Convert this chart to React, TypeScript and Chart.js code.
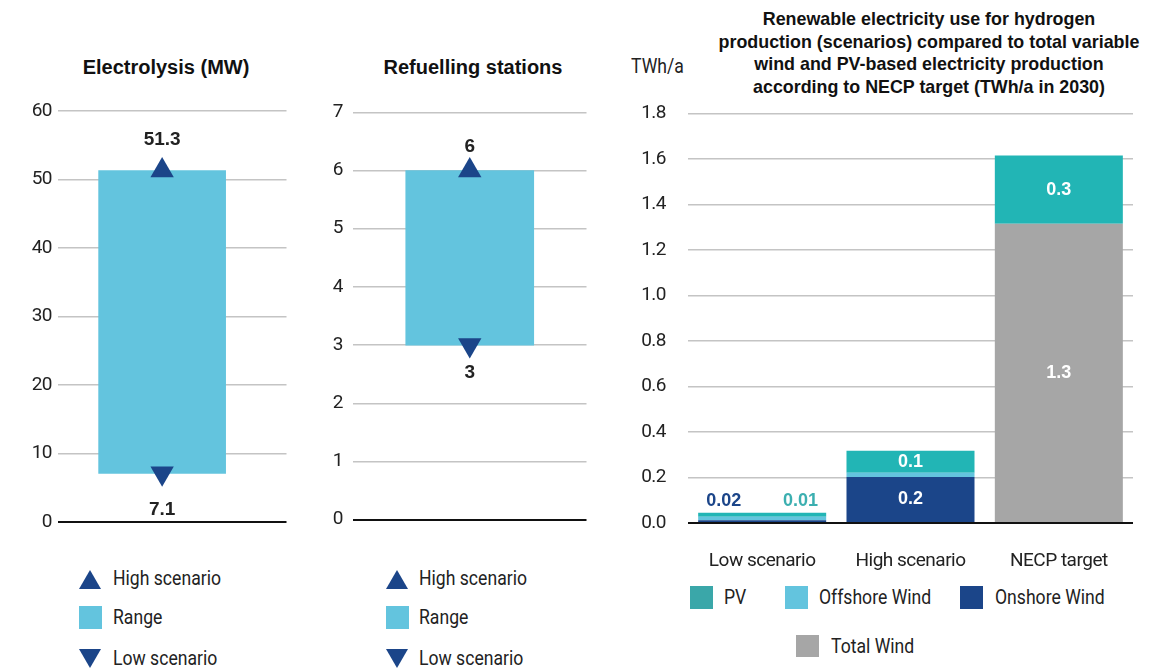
import React, { useEffect, useRef } from 'react';
import { Chart, registerables } from 'chart.js';

Chart.register(...registerables);

// ---------- data ----------
const electrolysisRange: [number, number][] = [[7.1, 51.3]];
const electrolysisHigh = [51.3];
const electrolysisLow = [7.1];

const stationsRange: [number, number][] = [[3, 6]];
const stationsHigh = [6];
const stationsLow = [3];

const scenarioCategories = ['Low scenario', 'High scenario', 'NECP target'];
const totalWind = [0, 0, 1.315];
const onshoreWind = [0.012, 0.202, 0];
const offshoreWind = [0.016, 0.019, 0];
const pv = [0.017, 0.096, 0.3];
const totalWindLabels = ['', '', '1.3'];
const onshoreLabels = ['', '0.2', ''];
const offshoreLabels = ['', '', ''];
const pvLabels = ['', '0.1', '0.3'];
const lowWindLabel = '0.02';
const lowPvLabel = '0.01';

// ---------- styles ----------
const FONT = "Roboto, 'Liberation Sans', sans-serif";
const BOLD_FONT = "'Liberation Sans', Arial, sans-serif";
const LIGHT = '#63C4DE';
const DARK = '#1B4589';
const TEAL = '#22B5B5';
const TEAL_SWATCH = '#3AA7A9';
const TEAL_TEXT = '#3BAFB0';
const GRAY = '#A6A6A6';
const TEXT = '#222222';
const GRID = '#C4C4C4';

const gridColor = (c: any) => (Math.abs(c.tick.value) < 1e-9 ? '#111111' : GRID);
const gridWidth = (c: any) => (Math.abs(c.tick.value) < 1e-9 ? 2 : 1.5);

const tightText = {
  id: 'tightText',
  beforeDraw(chart: any) {
    (chart.ctx as any).letterSpacing = '-0.5px';
  },
};

type RangeProps = {
  left: number;
  top: number;
  width: number;
  height: number;
  range: [number, number][];
  high: number[];
  low: number[];
  max: number;
  step: number;
  axisWidth: number;
  tickPad: number;
  pad: { top: number; right: number; bottom: number };
  barWidth: number;
  xMin: number;
  xMax: number;
  highOffset: number;
  lowOffset: number;
};

function RangeChart(p: RangeProps) {
  const ref = useRef<HTMLCanvasElement | null>(null);
  useEffect(() => {
    if (!ref.current) return;
    const labelPlugin = {
      id: 'rangeLabels',
      afterDatasetsDraw(chart: any) {
        const ctx = chart.ctx;
        ctx.save();
        ctx.letterSpacing = '0px';
        ctx.font = `bold 19px ${BOLD_FONT}`;
        ctx.fillStyle = TEXT;
        ctx.textAlign = 'center';
        ctx.textBaseline = 'middle';
        chart.getDatasetMeta(1).data.forEach((pt: any, i: number) => {
          ctx.fillText(String(p.high[i]), pt.x, pt.y - p.highOffset);
        });
        chart.getDatasetMeta(2).data.forEach((pt: any, i: number) => {
          ctx.fillText(String(p.low[i]), pt.x, pt.y + p.lowOffset);
        });
        ctx.restore();
      },
    };
    const chart = new Chart(ref.current, {
      type: 'bar',
      data: {
        datasets: [
          {
            type: 'bar',
            data: p.range.map((r, i) => ({ x: i, y: r })) as any,
            backgroundColor: LIGHT,
            barThickness: p.barWidth,
            order: 2,
          } as any,
          {
            type: 'line',
            data: p.high.map((v, i) => ({ x: i, y: v })),
            showLine: false,
            pointStyle: 'triangle',
            pointRadius: 13.5,
            pointBackgroundColor: DARK,
            pointBorderWidth: 0,
            order: 1,
          } as any,
          {
            type: 'line',
            data: p.low.map((v, i) => ({ x: i, y: v })),
            showLine: false,
            pointStyle: 'triangle',
            pointRotation: 180,
            pointRadius: 13.5,
            pointBackgroundColor: DARK,
            pointBorderWidth: 0,
            order: 1,
          } as any,
        ],
      },
      options: {
        animation: false,
        responsive: false,
        layout: { padding: { top: p.pad.top, right: p.pad.right, bottom: p.pad.bottom, left: 0 } },
        plugins: {
          legend: { display: false },
          tooltip: { enabled: false },
          title: { display: false },
        },
        scales: {
          x: { type: 'linear', display: false, min: p.xMin, max: p.xMax, offset: false },
          y: {
            min: 0,
            max: p.max,
            ticks: {
              stepSize: p.step,
              padding: p.tickPad,
              color: TEXT,
              font: { family: FONT, size: 19 },
            },
            grid: { color: gridColor, lineWidth: gridWidth, drawTicks: false },
            border: { display: false },
            afterFit: (s: any) => {
              s.width = p.axisWidth;
            },
          } as any,
        },
      },
      plugins: [tightText, labelPlugin],
    });
    return () => chart.destroy();
  }, []);
  return (
    <canvas
      ref={ref}
      width={p.width}
      height={p.height}
      style={{ position: 'absolute', left: p.left, top: p.top, width: p.width, height: p.height }}
    />
  );
}

function StackChart() {
  const ref = useRef<HTMLCanvasElement | null>(null);
  useEffect(() => {
    if (!ref.current) return;
    const labelSets = [totalWindLabels, onshoreLabels, offshoreLabels, pvLabels];
    const plugin = {
      id: 'stackLabels',
      afterDatasetsDraw(chart: any) {
        const ctx = chart.ctx;
        ctx.save();
        ctx.letterSpacing = '0px';
        ctx.font = `bold 18px ${BOLD_FONT}`;
        ctx.textAlign = 'center';
        ctx.textBaseline = 'middle';
        ctx.fillStyle = '#FFFFFF';
        labelSets.forEach((labels, di) => {
          chart.getDatasetMeta(di).data.forEach((el: any, i: number) => {
            if (labels[i]) ctx.fillText(labels[i], el.x, (el.y + el.base) / 2);
          });
        });
        const top = chart.getDatasetMeta(3).data[0] as any;
        ctx.fillStyle = DARK;
        ctx.fillText(lowWindLabel, top.x - top.width * 0.3, top.y - 12);
        ctx.fillStyle = TEAL_TEXT;
        ctx.fillText(lowPvLabel, top.x + top.width * 0.3, top.y - 12);
        ctx.restore();
      },
    };
    const common = { barPercentage: 0.863, categoryPercentage: 1 };
    const chart = new Chart(ref.current, {
      type: 'bar',
      data: {
        labels: scenarioCategories,
        datasets: [
          { label: 'Total Wind', data: totalWind, backgroundColor: GRAY, ...common },
          { label: 'Onshore Wind', data: onshoreWind, backgroundColor: DARK, ...common },
          { label: 'Offshore Wind', data: offshoreWind, backgroundColor: LIGHT, ...common },
          { label: 'PV', data: pv, backgroundColor: TEAL, ...common },
        ],
      },
      options: {
        animation: false,
        responsive: false,
        layout: { padding: { top: 0, right: 37, bottom: 0, left: 0 } },
        plugins: {
          legend: { display: false },
          tooltip: { enabled: false },
          title: { display: false },
        },
        scales: {
          x: {
            stacked: true,
            grid: { display: false, drawTicks: false },
            border: { display: false },
            ticks: { padding: 27, color: TEXT, font: { family: FONT, size: 19 } },
            afterFit: (s: any) => {
              s.height = 60;
            },
          } as any,
          y: {
            stacked: true,
            min: 0,
            max: 1.8,
            ticks: {
              stepSize: 0.2,
              padding: 22,
              color: TEXT,
              font: { family: FONT, size: 19 },
              callback: (v: any) => Number(v).toFixed(1),
            },
            grid: { color: gridColor, lineWidth: gridWidth, drawTicks: false },
            border: { display: false },
            afterFit: (s: any) => {
              s.width = 88;
            },
          } as any,
        },
      },
      plugins: [tightText, plugin],
    });
    return () => chart.destroy();
  }, []);
  return (
    <canvas
      ref={ref}
      width={570}
      height={503}
      style={{ position: 'absolute', left: 600, top: 80, width: 570, height: 503 }}
    />
  );
}

const textStyle = (left: number, centerY: number): React.CSSProperties => ({
  position: 'absolute',
  left,
  top: centerY - 12,
  lineHeight: '24px',
  fontSize: 20,
  fontFamily: FONT,
  color: TEXT,
  whiteSpace: 'nowrap',
  transform: 'scaleX(0.88)',
  transformOrigin: 'left center',
});

function Triangle({ left, centerY, down }: { left: number; centerY: number; down?: boolean }) {
  const s: React.CSSProperties = {
    position: 'absolute',
    left,
    top: centerY - 9,
    width: 0,
    height: 0,
    borderLeft: '11.5px solid transparent',
    borderRight: '11.5px solid transparent',
  };
  if (down) s.borderTop = `19px solid ${DARK}`;
  else s.borderBottom = `19px solid ${DARK}`;
  return <div style={s} />;
}

function Swatch({ left, top, w, h, color }: { left: number; top: number; w: number; h: number; color: string }) {
  return <div style={{ position: 'absolute', left, top, width: w, height: h, background: color }} />;
}

function RangeLegend({ x, textX }: { x: number; textX: number }) {
  return (
    <>
      <Triangle left={x} centerY={579} />
      <div style={textStyle(textX, 578)}>High scenario</div>
      <Swatch left={x} top={606} w={23} h={23} color={LIGHT} />
      <div style={textStyle(textX, 617)}>Range</div>
      <Triangle left={x} centerY={658} down />
      <div style={textStyle(textX, 658)}>Low scenario</div>
    </>
  );
}

const titleStyle = (center: number, width: number, top: number, size: number, sx: number): React.CSSProperties => ({
  position: 'absolute',
  left: center - width / 2,
  width,
  top,
  textAlign: 'center',
  fontFamily: BOLD_FONT,
  fontWeight: 'bold',
  fontSize: size,
  lineHeight: '22.5px',
  color: '#111',
  whiteSpace: 'nowrap',
  transform: `scaleX(${sx})`,
  transformOrigin: 'center center',
});

export default function App() {
  return (
    <div
      style={{
        position: 'absolute',
        left: 0,
        top: 0,
        width: 1170,
        height: 670,
        background: '#fff',
        overflow: 'hidden',
        fontFamily: FONT,
      }}
    >
      <div style={titleStyle(166, 260, 56, 20, 1)}>Electrolysis (MW)</div>
      <div style={titleStyle(473, 260, 56, 20, 1)}>Refuelling stations</div>
      <div style={titleStyle(929, 520, 8, 19, 0.94)}>
        Renewable electricity use for hydrogen
        <br />
        production (scenarios) compared to total variable
        <br />
        wind and PV-based electricity production
        <br />
        according to NECP target (TWh/a in 2030)
      </div>
      <div style={textStyle(631, 66)}>TWh/a</div>

      <RangeChart
        left={0}
        top={91}
        width={300}
        height={450}
        range={electrolysisRange}
        high={electrolysisHigh}
        low={electrolysisLow}
        max={60}
        step={10}
        axisWidth={58}
        tickPad={6}
        pad={{ top: 20, right: 5, bottom: 19 }}
        barWidth={127}
        xMin={-0.4557}
        xMax={0.5443}
        highOffset={31}
        lowOffset={36}
      />
      <RangeChart
        left={300}
        top={91}
        width={300}
        height={450}
        range={stationsRange}
        high={stationsHigh}
        low={stationsLow}
        max={7}
        step={1}
        axisWidth={53}
        tickPad={10}
        pad={{ top: 21, right: 10, bottom: 18 }}
        barWidth={128}
        xMin={-0.5}
        xMax={0.5}
        highOffset={24}
        lowOffset={28}
      />
      <StackChart />

      <RangeLegend x={79} textX={113} />
      <RangeLegend x={386} textX={419} />

      <Swatch left={690} top={586} w={23} h={23} color={TEAL_SWATCH} />
      <div style={textStyle(724, 597)}>PV</div>
      <Swatch left={785} top={586} w={23} h={23} color={LIGHT} />
      <div style={textStyle(819, 597)}>Offshore Wind</div>
      <Swatch left={960} top={586} w={23} h={23} color={DARK} />
      <div style={textStyle(995, 597)}>Onshore Wind</div>
      <Swatch left={796} top={635} w={23} h={22} color={GRAY} />
      <div style={textStyle(831, 646)}>Total Wind</div>
    </div>
  );
}
